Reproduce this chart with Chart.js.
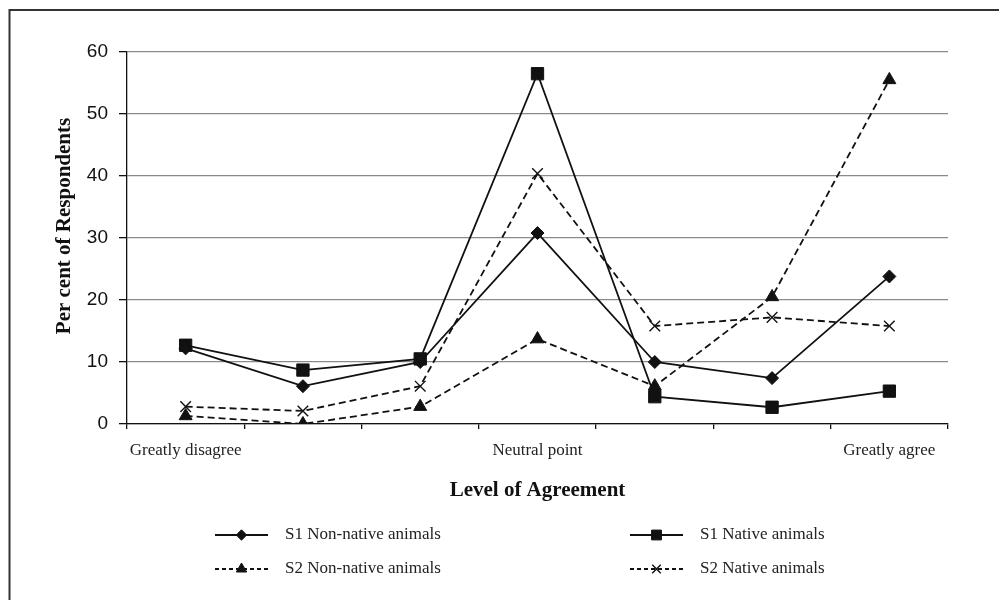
<!DOCTYPE html>
<html>
<head>
<meta charset="utf-8">
<script src="https://cdn.jsdelivr.net/npm/chart.js@4/dist/chart.umd.min.js"></script>
<style>
  html, body { margin: 0; padding: 0; background: #fff; }
  #wrap { width: 999px; height: 600px; position: relative; }
</style>
</head>
<body>
<div id="wrap"><canvas id="agreeChart" width="999" height="600"></canvas></div>
<script>
// categories (only three carry a label)
const levels = ['Greatly disagree', '', '', 'Neutral point', '', '', 'Greatly agree'];
const yTicks = [0, 10, 20, 30, 40, 50, 60];

// per cent of respondents
const s1NonNative = [12.2, 6.1, 10.0, 30.8, 10.0, 7.4, 23.8];
const s1Native    = [12.7, 8.7, 10.5, 56.5, 4.4, 2.7, 5.3];
const s2NonNative = [1.3, 0.0, 2.8, 13.7, 6.1, 20.5, 55.5];
const s2Native    = [2.8, 2.1, 6.1, 40.4, 15.8, 17.2, 15.8];

const seriesNames = ['S1 Non-native animals', 'S1 Native animals', 'S2 Non-native animals', 'S2 Native animals'];

const serif = '"Liberation Serif", "Times New Roman", serif';
const sans = '"Liberation Sans", Arial, sans-serif';

function lineSet(label, data, dashed, style, radius, bw) {
  return {
    label: label,
    data: data,
    borderColor: '#111',
    backgroundColor: '#111',
    borderWidth: 1.8,
    borderDash: dashed ? [7, 4] : [],
    pointStyle: style,
    pointRadius: radius,
    pointBorderWidth: bw,
    pointBorderColor: '#111',
    pointBackgroundColor: '#111',
    tension: 0,
    fill: false
  };
}

// frame, y title and the legend
const extras = {
  id: 'extras',
  afterDraw(chart) {
    const ctx = chart.ctx;
    ctx.save();

    ctx.strokeStyle = '#333';
    ctx.lineWidth = 2;
    ctx.beginPath();
    ctx.moveTo(9.5, 600);
    ctx.lineTo(9.5, 10);
    ctx.lineTo(999, 10);
    ctx.stroke();

    ctx.fillStyle = '#111';
    ctx.font = 'bold 21px ' + serif;
    ctx.textAlign = 'center';
    ctx.textBaseline = 'middle';
    ctx.translate(65, 226);
    ctx.rotate(-Math.PI / 2);
    ctx.fillText('Per cent of Respondents', 0, 0);
    ctx.restore();

    const cols = [215, 630];
    const rows = [535, 569];
    chart.data.datasets.forEach((ds, i) => {
      const x0 = cols[i % 2];
      const y0 = rows[Math.floor(i / 2)];
      ctx.save();
      ctx.strokeStyle = ds.borderColor;
      ctx.lineWidth = 1.8;
      ctx.setLineDash(ds.borderDash.length ? [4, 3] : []);
      ctx.beginPath();
      ctx.moveTo(x0, y0);
      ctx.lineTo(x0 + 53, y0);
      ctx.stroke();
      ctx.setLineDash([]);
      ctx.fillStyle = ds.pointBackgroundColor;
      ctx.strokeStyle = ds.pointBorderColor;
      ctx.lineWidth = ds.pointBorderWidth;
      Chart.helpers.drawPoint(ctx, { pointStyle: ds.pointStyle, radius: ds.pointRadius * 0.8, rotation: 0, borderWidth: ds.pointBorderWidth }, x0 + 26.5, y0);
      ctx.fillStyle = '#222';
      ctx.font = '17px ' + serif;
      ctx.textAlign = 'left';
      ctx.textBaseline = 'middle';
      ctx.fillText(ds.label, x0 + 70, y0);
      ctx.restore();
    });
  }
};

const ctx = document.getElementById('agreeChart').getContext('2d');
new Chart(ctx, {
  type: 'line',
  data: {
    labels: levels,
    datasets: [
      lineSet(seriesNames[0], s1NonNative, false, 'rectRot', 6.5, 1),
      lineSet(seriesNames[1], s1Native, false, 'rect', 8.7, 1),
      lineSet(seriesNames[2], s2NonNative, true, 'triangle', 7.5, 1),
      lineSet(seriesNames[3], s2Native, true, 'crossRot', 7.5, 1.4)
    ]
  },
  options: {
    responsive: false,
    animation: false,
    layout: { padding: { left: 0, top: 52, right: 51, bottom: 86 } },
    plugins: {
      legend: { display: false },
      tooltip: { enabled: false }
    },
    scales: {
      x: {
        offset: true,
        grid: { display: true, offset: true, drawOnChartArea: false, tickLength: 5, color: '#111', lineWidth: 1.3 },
        border: { color: '#111', width: 1.3 },
        ticks: { color: '#222', font: { family: serif, size: 17 }, padding: 11, autoSkip: false, maxRotation: 0 },
        title: { display: true, text: 'Level of Agreement', color: '#111', font: { family: serif, size: 21, weight: 'bold' }, padding: { top: 0, bottom: 11 } },
        afterFit(scale) { scale.height = 90; }
      },
      y: {
        min: 0,
        max: 60,
        afterBuildTicks(scale) { scale.ticks = yTicks.map(v => ({ value: v })); },
        grid: { color: '#8a8a8a', lineWidth: 1.3, tickLength: 8, tickColor: '#111' },
        border: { color: '#111', width: 1.3 },
        ticks: { color: '#111', font: { family: sans, size: 19 }, padding: 11 },
        afterFit(scale) { scale.width = 127; }
      }
    }
  },
  plugins: [extras]
});
</script>
</body>
</html>
